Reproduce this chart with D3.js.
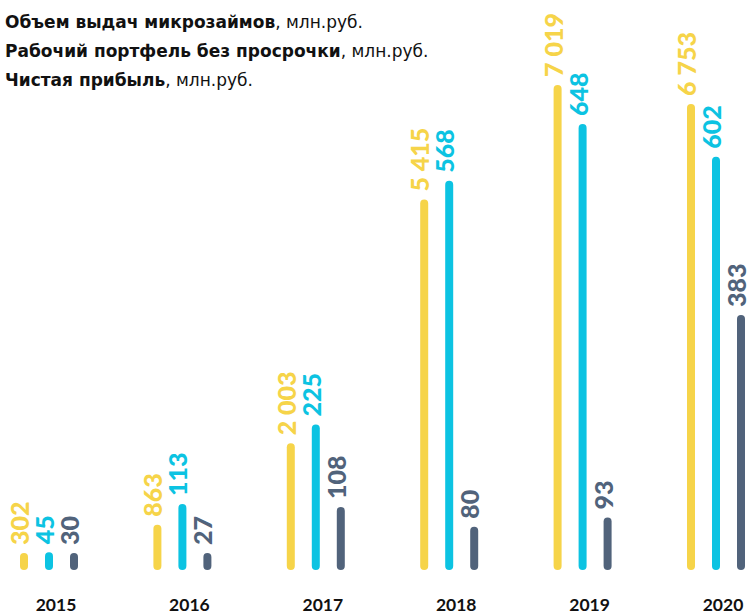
<!DOCTYPE html>
<html>
<head>
<meta charset="utf-8">
<script src="https://cdn.jsdelivr.net/npm/d3@7"></script>
<style>
  body { margin: 0; background: #fff; }
  svg text { font-family: Lato, "Noto Sans", sans-serif; }
</style>
</head>
<body>
<svg id="chart"></svg>
<script>
var width = 748;
var height = 615;

// data
var years = ["2015", "2016", "2017", "2018", "2019", "2020"];
var loans = [302, 863, 2003, 5415, 7019, 6753];       // Объем выдач микрозаймов
var portfolio = [45, 113, 225, 568, 648, 602];        // Рабочий портфель без просрочки
var profit = [30, 27, 108, 80, 93, 383];              // Чистая прибыль
var legendNames = ["Объем выдач микрозаймов", "Рабочий портфель без просрочки", "Чистая прибыль"];
var unitLabel = ", млн.руб.";

var colors = ["#f6d449", "#0cc3e2", "#51637b"];

var series = [
  { key: "loans", values: loans, color: colors[0], y: d3.scaleLinear().domain([230, 7019]).range([0, 485]) },
  { key: "portfolio", values: portfolio, color: colors[1], y: d3.scaleLinear().domain([20, 648]).range([0, 446]) },
  { key: "profit", values: profit, color: colors[2], y: d3.scaleLinear().domain([18, 383]).range([0, 255]) }
];

var baseline = 570;
var barW = 8;
var minH = 17;

var svg = d3.select("#chart")
  .attr("width", width)
  .attr("height", height);

var x = d3.scalePoint()
  .domain(years)
  .range([49, 716]);

var offset = d3.scalePoint()
  .domain(series.map(function(d) { return d.key; }))
  .range([-25, 25]);

// legend
var legend = svg.append("g");
legendNames.forEach(function(name, i) {
  var t = legend.append("text")
    .attr("x", 5)
    .attr("y", 28 + i * 29)
    .attr("font-size", 17)
    .style("font-family", "'DejaVu Sans', sans-serif")
    .attr("fill", "#111");
  t.append("tspan").attr("font-weight", "bold").text(name);
  t.append("tspan").attr("font-weight", "normal").text(unitLabel);
});

var fmt = function(v) {
  return d3.format(",")(v).replace(/,/g, " ");
};

series.forEach(function(s) {
  var g = svg.append("g");
  var rows = years.map(function(yr, i) { return { year: yr, value: s.values[i] }; });

  g.selectAll("rect")
    .data(rows)
    .enter().append("rect")
    .attr("x", function(d) { return x(d.year) + offset(s.key) - barW / 2; })
    .attr("y", function(d) { return baseline - Math.max(minH, s.y(d.value)); })
    .attr("width", barW)
    .attr("height", function(d) { return Math.max(minH, s.y(d.value)); })
    .attr("rx", barW / 2)
    .attr("fill", s.color);

  g.selectAll("text")
    .data(rows)
    .enter().append("text")
    .attr("transform", function(d) {
      var cx = x(d.year) + offset(s.key) + 5;
      var cy = baseline - Math.max(minH, s.y(d.value)) - 8;
      return "translate(" + cx + "," + cy + ") rotate(-90)";
    })
    .attr("font-size", 25)
    .attr("font-weight", "900")
    .attr("fill", s.color)
    .text(function(d) { return fmt(d.value); });
});

// year labels
svg.append("g").selectAll("text")
  .data(years)
  .enter().append("text")
  .attr("x", function(d) { return x(d) + 7; })
  .attr("y", 611)
  .attr("text-anchor", "middle")
  .attr("font-size", 17.5)
  .attr("font-weight", "bold")
  .attr("fill", "#111")
  .text(function(d) { return d; });
</script>
</body>
</html>
